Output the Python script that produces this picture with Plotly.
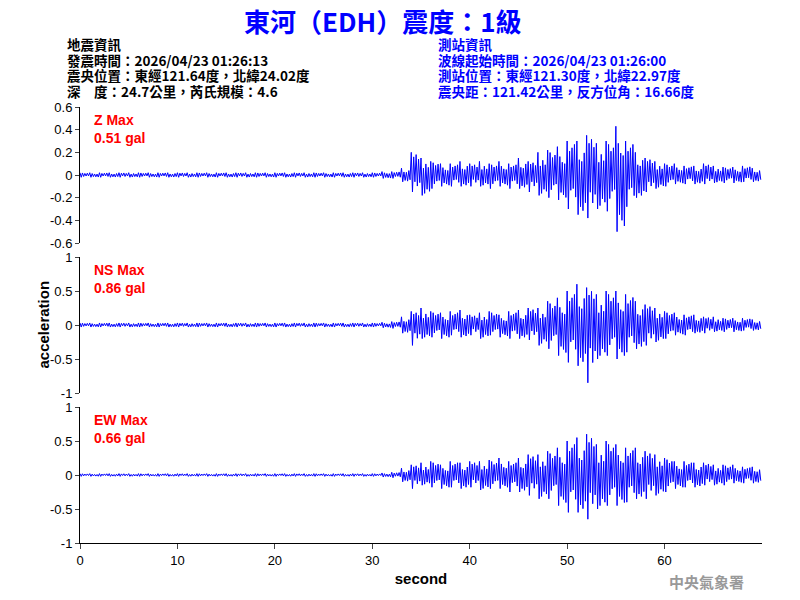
import plotly.graph_objects as go
from plotly.subplots import make_subplots

# Per-second envelope (positive peak, negative peak), seconds 0..69
z_pos = [0.02,0.02,0.02,0.02,0.02,0.02,0.02,0.02,0.02,0.02,0.02,0.02,0.02,0.02,0.02,0.02,0.02,0.02,0.02,0.02,
         0.02,0.02,0.02,0.02,0.02,0.02,0.02,0.02,0.02,0.02,0.02,0.03,0.03,0.06,0.2,0.15,0.12,0.1,0.1,0.12,
         0.1,0.12,0.1,0.12,0.1,0.15,0.12,0.2,0.22,0.25,0.3,0.3,0.35,0.28,0.3,0.43,0.3,0.2,0.15,0.12,
         0.1,0.1,0.08,0.08,0.1,0.08,0.07,0.07,0.08,0.06]
z_neg = [0.02,0.02,0.02,0.02,0.02,0.02,0.02,0.02,0.02,0.02,0.02,0.02,0.02,0.02,0.02,0.02,0.02,0.02,0.02,0.02,
         0.02,0.02,0.02,0.02,0.02,0.02,0.02,0.02,0.02,0.02,0.02,0.03,0.03,0.06,0.15,0.18,0.12,0.1,0.1,0.1,
         0.1,0.1,0.12,0.1,0.12,0.12,0.15,0.18,0.2,0.22,0.3,0.35,0.38,0.3,0.32,0.5,0.28,0.2,0.15,0.12,
         0.1,0.08,0.08,0.08,0.08,0.07,0.07,0.07,0.06,0.06]
ns_pos = [0.03,0.03,0.03,0.03,0.03,0.03,0.03,0.03,0.03,0.03,0.03,0.03,0.03,0.03,0.03,0.03,0.03,0.03,0.03,0.03,
          0.03,0.03,0.03,0.03,0.03,0.03,0.03,0.03,0.03,0.03,0.03,0.04,0.05,0.12,0.2,0.25,0.2,0.18,0.2,0.22,
          0.15,0.18,0.2,0.15,0.2,0.22,0.25,0.25,0.35,0.4,0.5,0.6,0.55,0.45,0.5,0.5,0.45,0.35,0.3,0.25,
          0.2,0.18,0.15,0.15,0.12,0.12,0.1,0.1,0.1,0.08]
ns_neg = [0.03,0.03,0.03,0.03,0.03,0.03,0.03,0.03,0.03,0.03,0.03,0.03,0.03,0.03,0.03,0.03,0.03,0.03,0.03,0.03,
          0.03,0.03,0.03,0.03,0.03,0.03,0.03,0.03,0.03,0.03,0.03,0.04,0.05,0.12,0.3,0.2,0.18,0.2,0.15,0.18,
          0.15,0.2,0.15,0.18,0.2,0.2,0.22,0.3,0.35,0.45,0.55,0.6,0.85,0.5,0.45,0.5,0.4,0.35,0.3,0.25,
          0.2,0.15,0.15,0.12,0.12,0.1,0.1,0.1,0.08,0.08]
ew_pos = [0.02,0.02,0.02,0.02,0.02,0.02,0.02,0.02,0.02,0.02,0.02,0.02,0.02,0.02,0.02,0.02,0.02,0.02,0.02,0.02,
          0.02,0.02,0.02,0.02,0.02,0.02,0.02,0.02,0.02,0.02,0.02,0.03,0.04,0.1,0.15,0.18,0.2,0.15,0.2,0.18,
          0.2,0.2,0.22,0.25,0.2,0.25,0.3,0.3,0.35,0.4,0.5,0.55,0.6,0.45,0.5,0.45,0.4,0.4,0.35,0.3,
          0.25,0.2,0.2,0.18,0.18,0.15,0.15,0.15,0.12,0.12]
ew_neg = [0.02,0.02,0.02,0.02,0.02,0.02,0.02,0.02,0.02,0.02,0.02,0.02,0.02,0.02,0.02,0.02,0.02,0.02,0.02,0.02,
          0.02,0.02,0.02,0.02,0.02,0.02,0.02,0.02,0.02,0.02,0.02,0.03,0.04,0.1,0.2,0.15,0.18,0.2,0.18,0.2,
          0.18,0.22,0.2,0.2,0.25,0.25,0.3,0.35,0.35,0.45,0.55,0.55,0.65,0.5,0.45,0.45,0.4,0.35,0.35,0.3,
          0.25,0.2,0.18,0.18,0.15,0.15,0.15,0.12,0.12,0.12]

channels = [("Z Max", "0.51 gal", z_pos, z_neg, [-0.6,0.6], [-0.6,-0.4,-0.2,0,0.2,0.4,0.6], ["-0.6","-0.4","-0.2","0","0.2","0.4","0.6"]),
            ("NS Max", "0.86 gal", ns_pos, ns_neg, [-1,1], [-1,-0.5,0,0.5,1], ["-1","-0.5","0","0.5","1"]),
            ("EW Max", "0.66 gal", ew_pos, ew_neg, [-1,1], [-1,-0.5,0,0.5,1], ["-1","-0.5","0","0.5","1"])]

left_lines = ["地震資訊", "發震時間：2026/04/23 01:26:13", "震央位置：東經121.64度，北緯24.02度", "深　度：24.7公里，芮氏規模：4.6"]
right_lines = ["測站資訊", "波線起始時間：2026/04/23 01:26:00", "測站位置：東經121.30度，北緯22.97度", "震央距：121.42公里，反方位角：16.66度"]

W, H = 800, 600
OX, OY = 8, 8  # page offset of the plot in the browser
L, T, R, B = 80 - OX, 107 - OY, 38 + OX, 57 + OY
PW, PH = W - L - R, H - T - B
def px(x): return (x - OX - L) / PW
def py(y): return 1 - (y - OY - T) / PH

fig = make_subplots(rows=3, cols=1, vertical_spacing=14/PH)
F = "Noto Sans CJK TC"
pattern = [1.0, 1.0, 0.8, 0.4, 0.9, 0.65, 0.7, 0.45]
for i, (lab, mx, pos, neg, rng, tv, tt) in enumerate(channels, start=1):
    xs, ys = [], []
    for s in range(len(pos)):
        for k in range(8):
            xs.append(s + k * 0.125)
            ys.append((pos[s] if k % 2 == 0 else -neg[s]) * pattern[(k + s) % 6 + 2 if k > 1 else k])
    fig.add_trace(go.Scatter(x=xs, y=ys, mode="lines", line=dict(color="#0000ff", width=1), showlegend=False), row=i, col=1)
    fig.update_yaxes(range=rng, tickvals=tv, ticktext=tt, showline=True, linecolor="black", ticks="outside",
                     ticklen=4, showgrid=False, zeroline=False, tickfont=dict(size=13, color="black", family="Arial"), row=i, col=1)
    fig.update_xaxes(range=[0, 70], showgrid=False, zeroline=False, row=i, col=1,
                     showticklabels=(i == 3), showline=(i == 3), linecolor="black", ticks="outside" if i == 3 else "",
                     tickvals=[0,10,20,30,40,50,60], tickfont=dict(size=13, color="black", family="Arial"))
    yref = "y domain" if i == 1 else f"y{i} domain"
    fig.add_annotation(x=0.018, y=0.98, xref="x domain", yref=yref, text=f"<b>{lab}</b><br><b>{mx}</b>", showarrow=False,
                       xanchor="left", yanchor="top", align="left", font=dict(size=14, color="red", family="Arial"))

fig.update_xaxes(title=dict(text="<b>second</b>", font=dict(size=15, family="Arial", color="black"), standoff=6), row=3, col=1)
fig.add_annotation(x=px(32), y=py(325), xref="paper", yref="paper", text="<b>acceleration</b>", textangle=-90,
                   showarrow=False, font=dict(size=15, family="Arial", color="black"))

line_y = [44, 60, 75, 91]
for txt, y in zip(left_lines, line_y):
    fig.add_annotation(x=px(65), y=py(y), xref="paper", yref="paper", text=f"<b>{txt}</b>", showarrow=False,
                       xanchor="left", yanchor="middle", font=dict(size=13.5, color="black", family=F))
for txt, y in zip(right_lines, line_y):
    fig.add_annotation(x=px(436), y=py(y), xref="paper", yref="paper", text=f"<b>{txt}</b>", showarrow=False,
                       xanchor="left", yanchor="middle", font=dict(size=13.5, color="#0000ff", family=F))
fig.add_annotation(x=px(383), y=py(21), xref="paper", yref="paper", text="<b>東河（EDH）震度：1級</b>", showarrow=False,
                   xanchor="center", yanchor="middle", font=dict(size=26, color="#0000ff", family=F))
fig.add_annotation(x=px(746), y=py(581), xref="paper", yref="paper", text="<b>中央氣象署</b>", showarrow=False,
                   xanchor="right", yanchor="middle", font=dict(size=15, color="#999999", family=F))

fig.update_layout(width=W, height=H, plot_bgcolor="white", paper_bgcolor="white",
                  margin=dict(l=L, r=R, t=T, b=B, autoexpand=False))
fig.write_html("out.html")
